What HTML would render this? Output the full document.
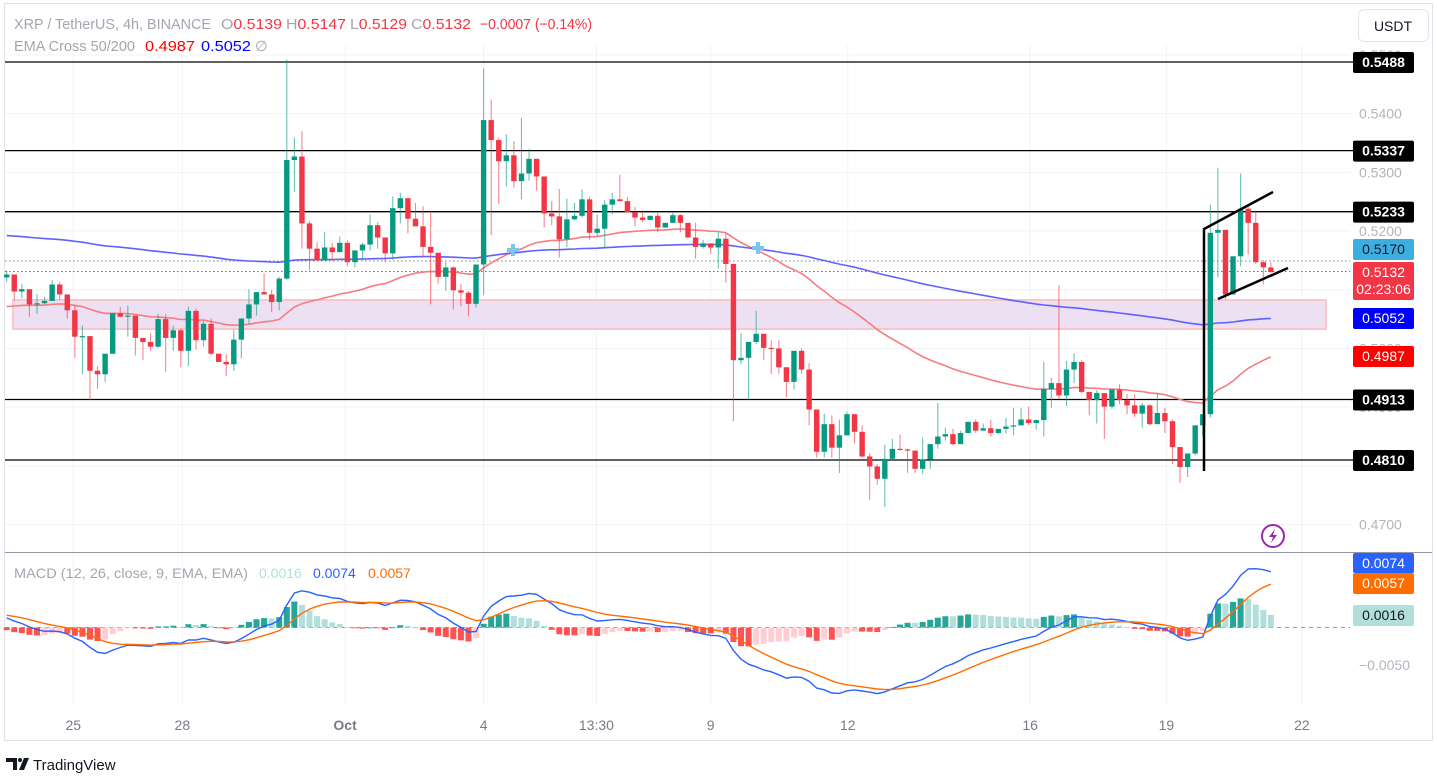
<!DOCTYPE html>
<html><head><meta charset="utf-8">
<style>
html,body{margin:0;padding:0;background:#fff;}
svg{display:block;font-family:"Liberation Sans",sans-serif;}
</style></head>
<body>
<svg id="chart" width="1437" height="777" viewBox="0 0 1437 777" xmlns="http://www.w3.org/2000/svg">
<rect x="0" y="0" width="1437" height="777" fill="#fff"/>
<rect x="4.5" y="3.5" width="1428" height="737" fill="none" stroke="#e0e3eb"/>
<g id="grid"></g>
<rect x="13" y="300" width="1313" height="29" fill="#ede0f3" stroke="#f9c6cc" stroke-width="2"/>
<line x1="5" y1="261" x2="1350" y2="261" stroke="#787b86" stroke-dasharray="1.5 2.5"/>
<line x1="5" y1="271.5" x2="1350" y2="271.5" stroke="#f23645" stroke-dasharray="1.5 2.5"/>
<g id="levels"></g>
<g id="emas"></g>
<g id="candles"></g>
<g id="macd"></g>
<g stroke="#000" stroke-width="2.5" fill="none">
<polyline points="1204,471 1204,229 1273,192"/>
<line x1="1218" y1="299" x2="1288" y2="268"/>
</g>
<g stroke="#7cc6ee" stroke-width="4"><line x1="507" y1="250" x2="519" y2="250"/><line x1="513" y1="244" x2="513" y2="256"/></g>
<g stroke="#7cc6ee" stroke-width="4"><line x1="752" y1="248" x2="764" y2="248"/><line x1="758" y1="242" x2="758" y2="254"/></g>
<g><circle cx="1273" cy="536" r="11" fill="#fff" stroke="#9c27b0" stroke-width="2"/><path d="M1275,529 L1269,537 L1273,537 L1271,543 L1277,535 L1273,535 Z" fill="#9c27b0"/></g>
<line x1="5" y1="552.5" x2="1432" y2="552.5" stroke="#9598a1"/>
<g id="axis"></g>
<g font-size="14.5">
<text x="14" y="29" fill="#a3a6af" textLength="197" lengthAdjust="spacingAndGlyphs">XRP / TetherUS, 4h, BINANCE</text>
<text x="221" y="29" fill="#a3a6af" textLength="61" lengthAdjust="spacingAndGlyphs">O<tspan fill="#f23645">0.5139</tspan></text>
<text x="286" y="29" fill="#a3a6af" textLength="60" lengthAdjust="spacingAndGlyphs">H<tspan fill="#f23645">0.5147</tspan></text>
<text x="350" y="29" fill="#a3a6af" textLength="57" lengthAdjust="spacingAndGlyphs">L<tspan fill="#f23645">0.5129</tspan></text>
<text x="411" y="29" fill="#a3a6af" textLength="60" lengthAdjust="spacingAndGlyphs">C<tspan fill="#f23645">0.5132</tspan></text>
<text x="480" y="29" fill="#f23645" textLength="112" lengthAdjust="spacingAndGlyphs">−0.0007 (−0.14%)</text>
<text x="14" y="51" fill="#a3a6af" textLength="121" lengthAdjust="spacingAndGlyphs">EMA Cross 50/200</text>
<text x="145" y="51" fill="#ff0000" textLength="50" lengthAdjust="spacingAndGlyphs">0.4987</text>
<text x="201" y="51" fill="#0000ff" textLength="50" lengthAdjust="spacingAndGlyphs">0.5052</text>
<text x="255" y="51" fill="#a3a6af">∅</text>
<text x="14" y="578" fill="#a3a6af" font-size="14" textLength="234" lengthAdjust="spacingAndGlyphs">MACD (12, 26, close, 9, EMA, EMA)</text>
<text x="259" y="578" fill="#b2dfdb" font-size="14">0.0016</text>
<text x="313" y="578" fill="#2962ff" font-size="14">0.0074</text>
<text x="368" y="578" fill="#ff6d00" font-size="14">0.0057</text>
</g>
<g><rect x="1358.5" y="9.5" width="70" height="32" rx="6" fill="#fff" stroke="#e0e3eb"/><text x="1393" y="31" text-anchor="middle" font-size="14" fill="#131722">USDT</text></g>
<g><path d="M6,758 H17 V770 H13 V762 H6 Z" fill="#131722"/><circle cx="20" cy="760" r="2" fill="#131722"/><path d="M24,758 H29 L24,770 H19 Z" fill="#131722"/><text x="33" y="770" font-size="15" fill="#131722">TradingView</text></g>
</svg>
<script>
const opens0 = 0.5121;
const closes = [.5126,.5097,.5101,.5075,.5077,.5081,.5109,.5092,.5065,.5020,.5021,.4962,.4956,.4991,.5060,.5054,.5056,.5018,.5011,.5003,.5050,.5018,.5031,.4996,.5064,.5014,.5042,.4991,.4977,.4973,.5015,.5051,.5075,.5096,.5092,.5079,.5119,.5321,.5327,.5213,.5170,.5150,.5172,.5164,.5180,.5147,.5167,.5177,.5210,.5189,.5162,.5239,.5256,.5221,.5208,.5173,.5163,.5122,.5138,.5099,.5095,.5076,.5143,.5389,.5355,.5319,.5329,.5285,.5298,.5323,.5293,.5230,.5225,.5186,.5220,.5226,.5254,.5197,.5204,.5245,.5254,.5251,.5232,.5223,.5219,.5226,.5206,.5214,.5227,.5214,.5189,.5173,.5179,.5172,.5187,.5144,.4980,.4984,.5011,.5025,.5001,.5000,.4968,.4943,.4996,.4964,.4896,.4824,.4871,.4831,.4852,.4888,.4858,.4816,.4799,.4778,.4812,.4829,.4828,.4826,.4795,.4811,.4837,.4850,.4854,.4837,.4856,.4875,.4860,.4864,.4856,.4863,.4867,.4869,.4879,.4873,.4878,.4931,.4941,.4920,.4964,.4977,.4926,.4912,.4924,.4901,.4930,.4912,.4903,.4889,.4903,.4871,.4890,.4876,.4832,.4798,.4821,.4869,.4888,.5197,.5202,.5092,.5157,.5238,.5214,.5147,.5138,.5130];
const highs = [.5133,.5126,.5110,.5100,.5093,.5088,.5117,.5113,.5092,.5073,.5039,.5021,.4970,.4991,.5060,.5071,.5073,.5056,.5018,.5026,.5059,.5059,.5039,.5034,.5071,.5068,.5047,.5051,.4991,.4990,.5032,.5051,.5101,.5096,.5128,.5100,.5122,.5492,.5359,.5370,.5217,.5181,.5198,.5180,.5191,.5184,.5167,.5180,.5228,.5215,.5189,.5259,.5265,.5256,.5248,.5242,.5234,.5163,.5147,.5140,.5110,.5098,.5143,.5477,.5424,.5359,.5365,.5353,.5393,.5340,.5323,.5293,.5251,.5272,.5255,.5248,.5271,.5258,.5228,.5253,.5265,.5296,.5258,.5241,.5235,.5226,.5231,.5214,.5231,.5229,.5214,.5214,.5185,.5179,.5198,.5196,.5144,.5026,.5011,.5064,.5025,.5014,.5014,.4968,.4996,.5000,.4975,.4896,.4889,.4886,.4879,.4892,.4888,.4869,.4821,.4803,.4836,.4846,.4853,.4829,.4825,.4848,.4837,.4907,.4865,.4863,.4860,.4875,.4879,.4872,.4879,.4863,.4882,.4899,.4899,.4901,.4878,.4977,.4950,.5108,.4979,.4992,.4980,.4926,.4929,.4924,.4930,.4939,.4922,.4922,.4907,.4905,.4924,.4899,.4879,.4832,.4821,.4869,.4888,.5245,.5308,.5202,.5157,.5298,.5242,.5235,.5150,.5147];
const lows = [.5113,.5082,.5085,.5054,.5059,.5075,.5081,.5083,.5051,.4984,.4956,.4912,.4931,.4943,.4991,.5054,.5020,.4988,.4980,.4996,.5001,.4960,.4996,.4968,.4970,.4998,.5003,.4988,.4977,.4953,.4962,.4983,.5042,.5056,.5092,.5062,.5065,.5117,.5267,.5170,.5133,.5150,.5150,.5149,.5164,.5140,.5138,.5153,.5167,.5170,.5147,.5151,.5213,.5196,.5208,.5155,.5075,.5110,.5098,.5066,.5072,.5055,.5070,.5091,.5193,.5246,.5276,.5274,.5254,.5286,.5269,.5206,.5210,.5155,.5173,.5218,.5223,.5185,.5191,.5170,.5229,.5251,.5232,.5208,.5215,.5219,.5198,.5206,.5213,.5198,.5189,.5153,.5170,.5161,.5136,.5112,.4876,.4973,.4914,.5007,.4980,.4956,.4957,.4917,.4930,.4957,.4869,.4814,.4814,.4814,.4788,.4852,.4838,.4814,.4742,.4768,.4730,.4812,.4826,.4788,.4788,.4786,.4795,.4829,.4843,.4835,.4837,.4855,.4856,.4860,.4850,.4854,.4855,.4852,.4869,.4869,.4862,.4850,.4899,.4914,.4902,.4941,.4924,.4886,.4872,.4846,.4897,.4905,.4888,.4883,.4865,.4869,.4871,.4856,.4803,.4771,.4781,.4818,.4850,.4882,.5121,.5083,.5092,.5140,.5160,.5144,.5109,.5129];
const levelPrices = [0.5488, 0.5337, 0.5233, 0.4913, 0.4810];
const priceTicks = [0.5500, 0.5400, 0.5300, 0.5200, 0.5100, 0.5000, 0.4900, 0.4800, 0.4700];
const timeLabels = ["25","28","Oct","4","13:30","9","12","16","19","22"];
const timeIndex = [8.8, 23.2, 44.7, 63, 77.9, 93, 111.1, 135.2, 153.2, 171.1];
const emaSeeds = [0.5069, 0.5193];
const macdSeed = [0.0015, 0.0017];
const emaLabels = ["0.4987", "0.5052"];

const NS = "http://www.w3.org/2000/svg";
function mk(tag, attrs, parent){const e=document.createElementNS(NS,tag);for(const k in attrs)e.setAttribute(k,attrs[k]);parent.appendChild(e);return e;}
const xOf = i => 6.7 + i*7.57;
const yP = p => 62 + (0.5488 - p)*5870;
const yM = v => 627.5 - v*7600;
const gGrid=document.getElementById('grid'), gLv=document.getElementById('levels'), gE=document.getElementById('emas'),
 gC=document.getElementById('candles'), gM=document.getElementById('macd'), gA=document.getElementById('axis');

priceTicks.forEach(p=>{const l=mk('line',{x1:5,x2:1350,y1:yP(p),y2:yP(p),stroke:'#f2f3f7'},gGrid);

});
timeIndex.forEach(ti=>{const l=mk('line',{x1:xOf(ti),x2:xOf(ti),y1:45,y2:705,stroke:'#f2f3f7'},gGrid);

});

priceTicks.forEach(p=>{const t=mk('text',{x:1359,y:yP(p)+5,'font-size':14,fill:'#b2b5be'},gA);t.textContent=p.toFixed(4);

});

levelPrices.forEach(p=>{const y=yP(p);
const l=mk('line',{x1:5,x2:1353,y1:y,y2:y,stroke:'#000','stroke-width':1.3},gLv);


const r=mk('rect',{x:1353,y:y-10,width:61,height:21,fill:'#000',rx:2},gA);


const t=mk('text',{x:1383.5,y:y+5,'text-anchor':'middle','font-size':14,fill:'#fff','font-weight':'bold'},gA);t.textContent=p.toFixed(4);

});

function ema(arr,k,seed){const o=[];let v=seed;arr.forEach(c=>{v=v+k*(c-v);o.push(v);});return o;}
const e50=ema(closes,2/51,emaSeeds[0]), e200=ema(closes,2/201,emaSeeds[1]);
const p50=mk('path',{d:e50.map((v,i)=>(i?'L':'M')+xOf(i).toFixed(1)+','+yP(v).toFixed(1)).join(''),fill:'none',stroke:'#f77c80','stroke-width':1.6},gE);


const p200=mk('path',{d:e200.map((v,i)=>(i?'L':'M')+xOf(i).toFixed(1)+','+yP(v).toFixed(1)).join(''),fill:'none',stroke:'#6161ff','stroke-width':1.6},gE);



closes.forEach((c,i)=>{const o=i?closes[i-1]:opens0;const up=c>=o;const col=up?'#089981':'#f23645';const x=xOf(i);
const w=mk('line',{x1:x,x2:x,y1:yP(Math.max(highs[i],o,c)),y2:yP(Math.min(lows[i],o,c)),stroke:col,'stroke-opacity':0.6,'stroke-width':1.1},gC);


const top=yP(Math.max(o,c)),bot=yP(Math.min(o,c));
const b=mk('rect',{x:x-2.7,y:top,width:5.4,height:Math.max(1.2,bot-top),fill:col},gC);

});

let e12=closes[0]+macdSeed[0],e26=closes[0],sig=macdSeed[1];const mline=[],sline=[],hist=[];
closes.forEach(c=>{e12+= (2/13)*(c-e12);e26+=(2/27)*(c-e26);const m=e12-e26;sig+=(2/10)*(m-sig);mline.push(m);sline.push(sig);hist.push(m-sig);});
const z=mk('line',{x1:5,x2:1350,y1:627.5,y2:627.5,stroke:'#9598a1','stroke-dasharray':'4 4'},gM);


hist.forEach((h,i)=>{const prev=i?hist[i-1]:0;let col;
if(h>=0)col=h>=prev?'#26a69a':'#b2dfdb';else col=h<prev?'#ff5252':'#ffcdd2';
const y0=yM(Math.max(h,0)),y1=yM(Math.min(h,0));
const r=mk('rect',{x:xOf(i)-3,y:y0,width:6,height:Math.max(0.8,y1-y0),fill:col},gM);

});
const ml=mk('path',{d:mline.map((v,i)=>(i?'L':'M')+xOf(i).toFixed(1)+','+yM(v).toFixed(1)).join(''),fill:'none',stroke:'#2962ff','stroke-width':1.4},gM);


const sl=mk('path',{d:sline.map((v,i)=>(i?'L':'M')+xOf(i).toFixed(1)+','+yM(v).toFixed(1)).join(''),fill:'none',stroke:'#ff6d00','stroke-width':1.4},gM);



timeLabels.forEach((t,k)=>{const e=mk('text',{x:xOf(timeIndex[k]),y:730,'text-anchor':'middle','font-size':14,fill:'#787b86','font-weight':t==='Oct'?'bold':'normal'},gA);e.textContent=t;

});

function badge(y,h,bg,fg,lines,name){const r=mk('rect',{x:1353,y:y,width:61,height:h,fill:bg,rx:2},gA);


lines.forEach((s,j)=>{const t=mk('text',{x:1383.5,y:y+15+j*17,'text-anchor':'middle','font-size':14,fill:fg},gA);t.textContent=s;

});}
badge(239,21,'#3daee0','#131722',['0.5170'],'high-price-badge');
badge(262,38,'#f23645','#fff',['0.5132','02:23:06'],'last-price-badge');
badge(308,21,'#0000ff','#fff',[emaLabels[1]],'ema200-badge');
badge(346,21,'#ff0000','#fff',[emaLabels[0]],'ema50-badge');
badge(553,20,'#2962ff','#fff',['0.0074'],'macd-value-badge');
badge(573,21,'#ff6d00','#fff',['0.0057'],'signal-value-badge');
badge(605,21,'#b2dfdb','#131722',['0.0016'],'histogram-value-badge');
const mt=mk('text',{x:1359,y:670,'font-size':14,fill:'#b2b5be'},gA);mt.textContent='−0.0050';


</script>
</body></html>
